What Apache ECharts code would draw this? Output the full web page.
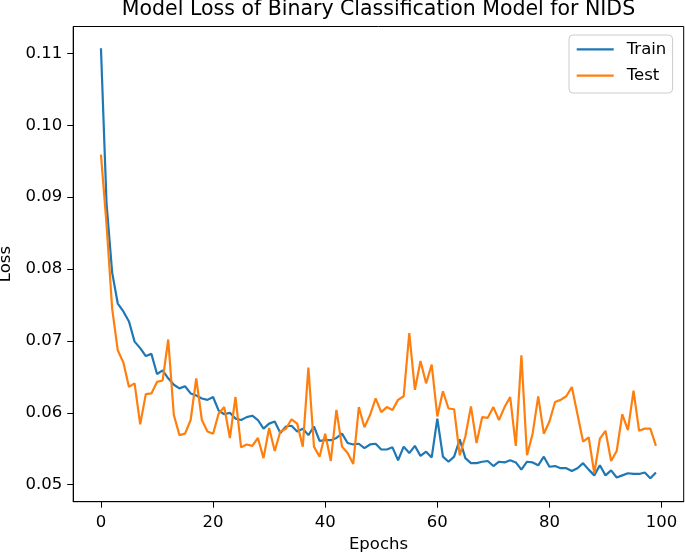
<!DOCTYPE html>
<html>
<head>
<meta charset="utf-8">
<script src="https://cdn.jsdelivr.net/npm/echarts@6/dist/echarts.min.js"></script>
<style>
  html, body { margin: 0; padding: 0; background: #fff; }
  #chart { width: 685px; height: 556px; }
</style>
</head>
<body>
<div id="chart"></div>
<script>
const titleText = 'Model Loss of Binary Classification Model for NIDS';
const seriesNames = ['Train', 'Test'];
const xTicks = [0, 20, 40, 60, 80, 100];
const yTicks = [0.05, 0.06, 0.07, 0.08, 0.09, 0.10, 0.11];

const trainLoss = [
  0.1107, 0.0891, 0.0795, 0.0752, 0.0741, 0.0727, 0.0699, 0.0690, 0.0679, 0.0682,
  0.0654, 0.0659, 0.0648, 0.0639, 0.0634, 0.0637, 0.0627, 0.0624, 0.0620, 0.0618,
  0.0622, 0.0603, 0.0598, 0.0600, 0.0592, 0.0590, 0.0594, 0.0596, 0.0590, 0.0578,
  0.0585, 0.0588, 0.0572, 0.0581, 0.0582, 0.0574, 0.0578, 0.0569, 0.0581, 0.0561,
  0.0562, 0.0562, 0.0565, 0.0571, 0.0558, 0.0556, 0.0557, 0.0551, 0.0556, 0.0557,
  0.0549, 0.0549, 0.0552, 0.0534, 0.0553, 0.0544, 0.0554, 0.0540, 0.0546, 0.0538,
  0.0592, 0.0539, 0.0532, 0.0539, 0.0563, 0.0537, 0.0530, 0.0530, 0.0532, 0.0533,
  0.0526, 0.0532, 0.0531, 0.0534, 0.0531, 0.0521, 0.0532, 0.0531, 0.0527, 0.0539,
  0.0525, 0.0526, 0.0523, 0.0523, 0.0519, 0.0523, 0.0530, 0.0521, 0.0513, 0.0527,
  0.0513, 0.0520, 0.0510, 0.0513, 0.0516, 0.0515, 0.0515, 0.0517, 0.0509, 0.0517
];

const testLoss = [
  0.0959, 0.0862, 0.0745, 0.0687, 0.0670, 0.0636, 0.0641, 0.0584, 0.0626, 0.0627,
  0.0643, 0.0645, 0.0702, 0.0597, 0.0569, 0.0571, 0.0590, 0.0648, 0.0590, 0.0574,
  0.0571, 0.0599, 0.0608, 0.0565, 0.0622, 0.0552, 0.0556, 0.0554, 0.0565, 0.0537,
  0.0579, 0.0547, 0.0574, 0.0578, 0.0591, 0.0585, 0.0553, 0.0663, 0.0553, 0.0539,
  0.0571, 0.0533, 0.0604, 0.0553, 0.0544, 0.0529, 0.0608, 0.0580, 0.0597, 0.0620,
  0.0601, 0.0608, 0.0604, 0.0618, 0.0623, 0.0711, 0.0632, 0.0672, 0.0641, 0.0667,
  0.0595, 0.0630, 0.0606, 0.0605, 0.0541, 0.0567, 0.0609, 0.0558, 0.0594, 0.0593,
  0.0608, 0.0590, 0.0608, 0.0622, 0.0554, 0.0680, 0.0541, 0.0571, 0.0623, 0.0571,
  0.0588, 0.0615, 0.0618, 0.0623, 0.0636, 0.0598, 0.0560, 0.0566, 0.0516, 0.0564,
  0.0575, 0.0533, 0.0547, 0.0598, 0.0576, 0.0631, 0.0575, 0.0578, 0.0578, 0.0554
];

const FONT = 'DejaVu Sans';
const FS = 16.5;

function toPairs(arr) { return arr.map((v, i) => [i, v]); }
function isTick(v, ticks) { return ticks.some(t => Math.abs(t - v) < 1e-9); }

const chart = echarts.init(document.getElementById('chart'), null, { renderer: 'canvas' });

chart.setOption({
  animation: false,
  backgroundColor: '#ffffff',
  textStyle: { fontFamily: FONT },
  title: {
    text: titleText,
    left: 378.5,
    top: -1,
    padding: 0,
    textAlign: 'center',
    textStyle: { fontFamily: FONT, fontSize: 20.5, fontWeight: 'normal', color: '#000' }
  },
  grid: {
    left: 73.2, right: 1.3, top: 26.5, bottom: 54.3,
    containLabel: false,
    outerBoundsMode: 'none',
    show: true, borderColor: '#000', borderWidth: 1, backgroundColor: 'transparent'
  },
  legend: {
    orient: 'vertical',
    left: 569, top: 35,
    padding: [5.3, 6.3, 8.3, 7.7],
    itemWidth: 37, itemHeight: 18, itemGap: 8.4,
    icon: 'path://M0,0H370V22H0Z',
    backgroundColor: 'rgba(255,255,255,0.8)',
    borderColor: '#cccccc', borderWidth: 1, borderRadius: 4,
    textStyle: { fontFamily: FONT, fontSize: FS, color: '#000', lineHeight: 18, padding: [0, 0, 0, 8] },
    data: seriesNames
  },
  xAxis: {
    type: 'value',
    min: -4.95, max: 103.95,
    name: 'Epochs', nameLocation: 'middle', nameGap: 34.5,
    nameTextStyle: { fontFamily: FONT, fontSize: FS, color: '#000' },
    axisLine: { show: true, onZero: false, lineStyle: { color: '#000', width: 1 } },
    axisTick: { show: true, length: 6, lineStyle: { color: '#000', width: 1 }, customValues: xTicks },
    axisLabel: {
      show: true, margin: 13, color: '#000', fontFamily: FONT, fontSize: FS,
      customValues: xTicks,
      formatter: v => isTick(v, xTicks) ? String(v) : ''
    },
    splitLine: { show: false }
  },
  yAxis: {
    type: 'value',
    min: 0.04764, max: 0.11373,
    name: 'Loss', nameLocation: 'middle', nameGap: 57,
    nameTextStyle: { fontFamily: FONT, fontSize: FS, color: '#000' },
    axisLine: { show: true, onZero: false, lineStyle: { color: '#000', width: 1 } },
    axisTick: { show: true, length: 6, lineStyle: { color: '#000', width: 1 }, customValues: yTicks },
    axisLabel: {
      show: true, margin: 11, color: '#000', fontFamily: FONT, fontSize: FS,
      customValues: yTicks,
      formatter: v => isTick(v, yTicks) ? v.toFixed(2) : ''
    },
    splitLine: { show: false }
  },
  series: [
    {
      name: seriesNames[0], type: 'line', data: toPairs(trainLoss),
      symbol: 'none', showSymbol: false, color: '#1f77b4',
      lineStyle: { color: '#1f77b4', width: 2.2 }
    },
    {
      name: seriesNames[1], type: 'line', data: toPairs(testLoss),
      symbol: 'none', showSymbol: false, color: '#ff7f0e',
      lineStyle: { color: '#ff7f0e', width: 2.2 }
    }
  ]
});
</script>
</body>
</html>
